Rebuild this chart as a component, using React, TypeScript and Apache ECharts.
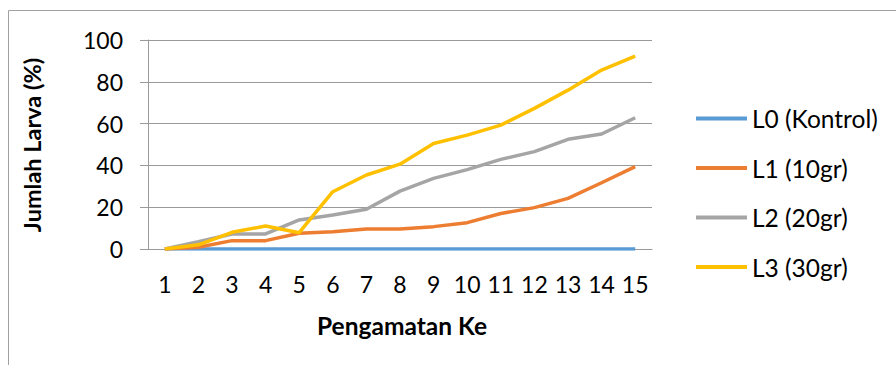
import React, { useEffect, useRef } from "react";
import * as echarts from "echarts";

const categories = ["1", "2", "3", "4", "5", "6", "7", "8", "9", "10", "11", "12", "13", "14", "15"];
const seriesNames = ["L0 (Kontrol)", "L1 (10gr)", "L2 (20gr)", "L3 (30gr)"];
const l0 = [0, 0, 0, 0, 0, 0, 0, 0, 0, 0, 0, 0, 0, 0, 0];
const l1 = [0, 0.8, 4, 4, 7.5, 8.3, 9.6, 9.6, 10.7, 12.6, 17, 19.8, 24.2, 31.7, 39.4];
const l2 = [0, 3.5, 7.2, 7.2, 13.9, 16.3, 19, 27.7, 33.8, 38, 42.9, 46.6, 52.5, 55, 62.8];
const l3 = [0, 2, 8, 11, 7.8, 27.4, 35.4, 40.6, 50.5, 54.5, 59.3, 67.3, 76, 85.6, 92.3];
const colors = ["#5B9BD5", "#ED7D31", "#A5A5A5", "#FFC000"];
const yTicks = { min: 0, max: 100, interval: 20 };

const FONT = "Lato";

export default function App() {
  const ref = useRef<HTMLDivElement>(null);
  useEffect(() => {
    if (!ref.current) return;
    const chart = echarts.init(ref.current, null, { renderer: "svg" });
    const data = [l0, l1, l2, l3];
    chart.setOption({
      animation: false,
      backgroundColor: "#ffffff",
      grid: { left: 148, right: 244, top: 40, bottom: 116 },
      xAxis: {
        type: "category",
        data: categories,
        boundaryGap: true,
        axisLine: { show: true, lineStyle: { color: "#9a9a9a", width: 1 } },
        axisTick: { show: false },
        axisLabel: { color: "#000", fontFamily: FONT, fontSize: 23, margin: 23, interval: 0, hideOverlap: false },
        splitLine: { show: false },
      },
      yAxis: {
        type: "value",
        min: yTicks.min,
        max: yTicks.max,
        interval: yTicks.interval,
        axisLine: { show: true, lineStyle: { color: "#9a9a9a", width: 1 } },
        axisTick: { show: true, length: 8, lineStyle: { color: "#9a9a9a" } },
        axisLabel: { color: "#000", fontFamily: FONT, fontSize: 23, margin: 25 },
        splitLine: { show: true, lineStyle: { color: "#9a9a9a", width: 1.2 } },
      },
      legend: {
        orient: "vertical",
        left: 696,
        top: 106,
        padding: 0,
        itemWidth: 51,
        itemHeight: 4,
        itemGap: 24.5,
        icon: "rect",
        data: seriesNames,
        textStyle: { color: "#000", fontFamily: FONT, fontSize: 24.5, lineHeight: 24 },
      },
      graphic: [
        {
          type: "rect",
          shape: { x: 8.5, y: 10.5, width: 1000, height: 1000 },
          style: { fill: "none", stroke: "#a0a0a0", lineWidth: 1 },
          silent: true,
        },
        {
          type: "text",
          x: 32,
          y: 145,
          rotation: Math.PI / 2,
          style: {
            text: "Jumlah Larva (%)",
            fontFamily: FONT,
            fontWeight: "bold",
            fontSize: 23.5,
            fill: "#000",
            textAlign: "center",
            textVerticalAlign: "middle",
          },
        },
        {
          type: "text",
          x: 402,
          y: 325,
          style: {
            text: "Pengamatan Ke",
            fontFamily: FONT,
            fontWeight: "bold",
            fontSize: 24.5,
            fill: "#000",
            textAlign: "center",
            textVerticalAlign: "middle",
          },
        },
      ],
      series: seriesNames.map((name, i) => ({
        name,
        type: "line",
        data: data[i],
        showSymbol: false,
        symbol: "none",
        lineStyle: { color: colors[i], width: 3.5 },
        itemStyle: { color: colors[i] },
        z: 2 + i,
      })),
    });
    return () => chart.dispose();
  }, []);
  return (
    <div
      ref={ref}
      style={{ position: "fixed", left: 0, top: 0, width: 896, height: 365 }}
    />
  );
}
